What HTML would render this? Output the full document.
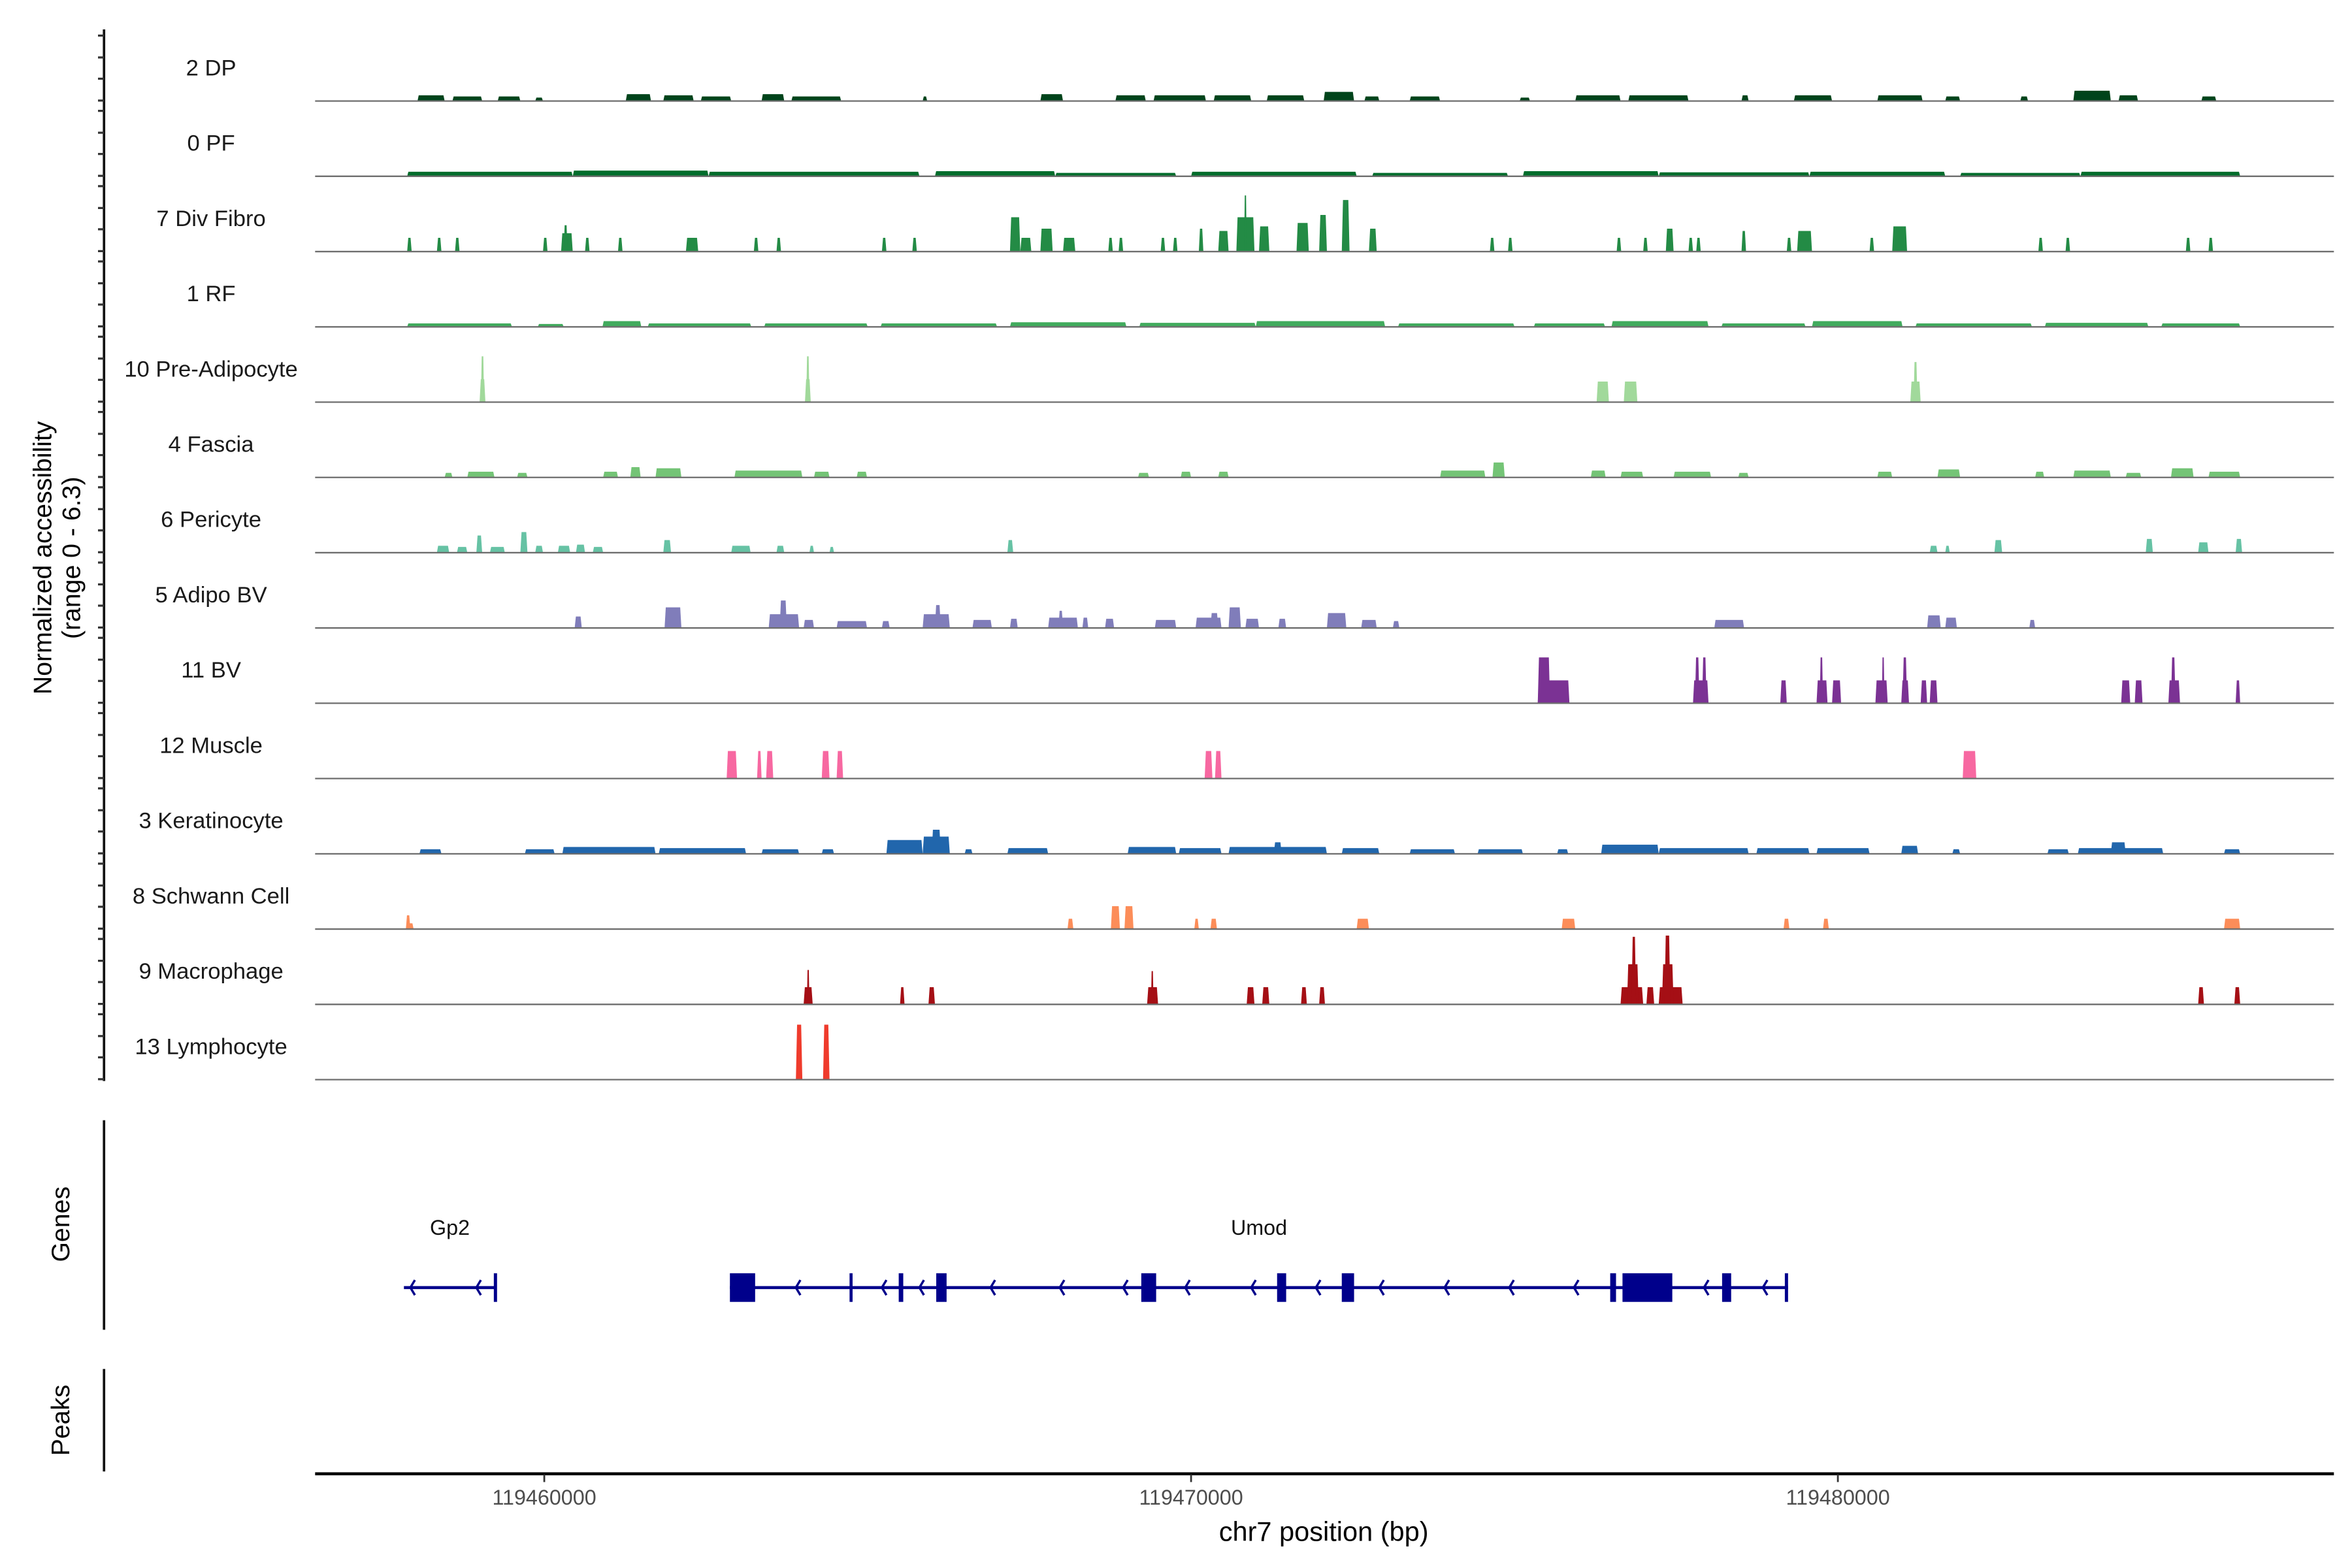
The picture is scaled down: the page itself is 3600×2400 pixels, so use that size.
<!DOCTYPE html>
<html><head><meta charset="utf-8">
<style>
html,body{margin:0;padding:0;background:#fff;}
svg{display:block;}
text{font-family:"Liberation Sans",Arial,sans-serif;}
</style></head>
<body>
<svg id="chart" width="3600" height="2400" viewBox="0 0 1560 1040" xmlns="http://www.w3.org/2000/svg">
<rect x="0" y="0" width="1560" height="1040" fill="#fff"/>
<g id="tracks"></g>
<g id="genes"></g>
<g id="axes"></g>
</svg>
<script>
// positions in kb offset from 119450000 bp; values in normalized accessibility
const trackNames = ["2 DP","0 PF","7 Div Fibro","1 RF","10 Pre-Adipocyte","4 Fascia","6 Pericyte","5 Adipo BV","11 BV","12 Muscle","3 Keratinocyte","8 Schwann Cell","9 Macrophage","13 Lymphocyte"];
const trackColors = ["#00441b","#006d2c","#238b45","#41ab5d","#a1d99b","#74c476","#66c2a4","#807dba","#7b3294","#f768a1","#2166ac","#fc8d59","#a50f15","#ef3b2c"];
const xTicks = [119460000,119470000,119480000];
const xTickLabels = ["119460000","119470000","119480000"];

const dpPeaks = [[8.04,8.46,0.5],[8.58,9.04,0.4],[9.28,9.63,0.4],[9.86,9.98,0.3],[11.26,11.65,0.6],[11.84,12.31,0.5],[12.42,12.89,0.4],[13.36,13.71,0.6],[13.82,14.59,0.4],[15.85,15.92,0.4],[17.67,18.02,0.6],[18.83,19.30,0.5],[19.42,20.23,0.5],[20.35,20.93,0.5],[21.17,21.75,0.5],[22.05,22.52,0.8],[22.68,22.91,0.4],[23.38,23.85,0.4],[25.08,25.24,0.3],[25.94,26.64,0.5],[26.76,27.69,0.5],[28.51,28.62,0.5],[29.32,29.91,0.5],[30.61,31.31,0.5],[31.66,31.89,0.4],[32.82,32.94,0.4],[33.64,34.22,0.9],[34.34,34.64,0.5],[35.62,35.85,0.4]];
const pfPeaks = [[7.88,10.44,0.4],[10.44,12.54,0.5],[12.54,15.80,0.4],[16.04,17.90,0.45],[17.90,19.77,0.3],[20.00,22.56,0.4],[22.80,24.90,0.3],[25.13,27.23,0.45],[27.23,29.56,0.35],[29.56,31.66,0.4],[31.89,33.75,0.3],[33.75,36.22,0.4]];
const divFibroPeaks = [[7.88,7.95,1.2],[8.34,8.41,1.2],[8.62,8.69,1.2],[9.98,10.05,1.2],[10.26,10.44,1.6],[10.30,10.36,2.3],[10.63,10.70,1.2],[11.14,11.21,1.2],[12.19,12.38,1.2],[13.24,13.31,1.2],[13.59,13.66,1.2],[15.22,15.29,1.2],[15.69,15.76,1.2],[17.20,17.36,3.0],[17.36,17.53,1.2],[17.67,17.86,2.0],[18.02,18.21,1.2],[18.72,18.79,1.2],[18.88,18.95,1.2],[19.53,19.60,1.2],[19.72,19.79,1.2],[20.12,20.19,2.0],[20.42,20.58,1.8],[20.70,20.98,3.0],[20.82,20.86,4.9],[21.05,21.21,2.2],[21.63,21.82,2.5],[21.98,22.10,3.2],[22.33,22.45,4.5],[22.75,22.87,2.0],[24.62,24.69,1.2],[24.90,24.97,1.2],[26.58,26.65,1.2],[26.99,27.06,1.2],[27.34,27.46,2.0],[27.69,27.76,1.2],[27.81,27.88,1.2],[28.51,28.58,1.8],[29.21,29.28,1.2],[29.37,29.60,1.8],[30.49,30.56,1.2],[30.84,31.07,2.2],[33.10,33.17,1.2],[33.52,33.59,1.2],[35.38,35.45,1.2],[35.73,35.80,1.2]];
const rfPeaks = [[7.88,9.50,0.3],[9.90,10.30,0.25],[10.90,11.50,0.5],[11.60,13.20,0.3],[13.40,15.00,0.3],[15.20,17.00,0.3],[17.20,19.00,0.4],[19.20,21.00,0.35],[21.00,23.00,0.5],[23.20,25.00,0.3],[25.30,26.40,0.3],[26.50,28.00,0.5],[28.20,29.50,0.3],[29.60,31.00,0.5],[31.20,33.00,0.3],[33.20,34.80,0.35],[35.00,36.22,0.3]];
const preAdipoPeaks = [[9.00,9.09,2.0],[9.02,9.07,4.0],[14.03,14.12,2.0],[14.05,14.10,4.0],[26.27,26.46,1.8],[26.69,26.90,1.8],[31.12,31.28,1.8],[31.17,31.23,3.5]];
const fasciaPeaks = [[8.46,8.58,0.4],[8.81,9.23,0.5],[9.58,9.74,0.4],[10.91,11.14,0.5],[11.33,11.49,0.9],[11.72,12.12,0.8],[12.94,13.99,0.6],[14.17,14.41,0.5],[14.83,14.99,0.5],[19.18,19.35,0.4],[19.84,20.00,0.5],[20.42,20.58,0.5],[23.85,24.55,0.6],[24.66,24.85,1.3],[26.18,26.41,0.6],[26.64,26.99,0.5],[27.46,28.04,0.5],[28.46,28.62,0.4],[30.61,30.84,0.5],[31.54,31.89,0.7],[33.05,33.19,0.5],[33.64,34.22,0.6],[34.45,34.69,0.4],[35.15,35.50,0.8],[35.73,36.22,0.5]];
const pericytePeaks = [[8.34,8.53,0.6],[8.65,8.81,0.5],[8.95,9.04,1.5],[9.16,9.39,0.5],[9.63,9.74,1.8],[9.86,9.98,0.6],[10.21,10.40,0.6],[10.49,10.63,0.7],[10.75,10.91,0.5],[11.84,11.96,1.1],[12.89,13.19,0.6],[13.59,13.71,0.6],[14.10,14.17,0.6],[14.41,14.48,0.5],[17.16,17.25,1.1],[31.42,31.54,0.6],[31.66,31.73,0.6],[32.42,32.54,1.1],[34.76,34.87,1.2],[35.57,35.73,0.9],[36.15,36.25,1.2]];
const adipoBvPeaks = [[10.47,10.58,1.0],[11.86,12.12,1.8],[13.47,13.94,1.2],[13.64,13.75,2.4],[14.01,14.17,0.7],[14.52,14.99,0.6],[15.22,15.34,0.6],[15.85,16.27,1.2],[16.04,16.13,2.0],[16.62,16.92,0.7],[17.20,17.32,0.8],[17.79,18.25,0.9],[17.95,18.02,1.5],[18.32,18.41,0.9],[18.67,18.81,0.8],[19.44,19.77,0.7],[20.07,20.47,0.9],[20.30,20.42,1.3],[20.58,20.77,1.8],[20.84,21.05,0.8],[21.35,21.47,0.8],[22.10,22.40,1.3],[22.63,22.87,0.7],[23.12,23.22,0.6],[28.09,28.55,0.7],[31.38,31.59,1.1],[31.66,31.84,0.9],[32.96,33.05,0.7]];
const bvPeaks = [[25.36,25.85,2.0],[25.36,25.55,4.0],[27.76,28.00,2.0],[27.79,27.86,4.0],[27.90,27.97,4.0],[29.11,29.21,2.0],[29.67,29.84,2.0],[29.72,29.77,4.0],[29.91,30.05,2.0],[30.58,30.77,2.0],[30.68,30.72,4.0],[30.98,31.10,2.0],[31.00,31.07,4.0],[31.28,31.38,2.0],[31.42,31.54,2.0],[34.38,34.52,2.0],[34.59,34.71,2.0],[35.11,35.29,2.0],[35.15,35.22,4.0],[36.15,36.22,2.0]];
const musclePeaks = [[12.82,12.98,2.4],[13.29,13.36,2.4],[13.43,13.54,2.4],[14.29,14.41,2.4],[14.52,14.62,2.4],[20.21,20.33,2.4],[20.37,20.47,2.4],[31.93,32.14,2.4]];
const keratinocytePeaks = [[8.07,8.41,0.4],[9.70,10.16,0.4],[10.28,11.72,0.6],[11.77,13.12,0.5],[13.36,13.94,0.4],[14.29,14.48,0.4],[15.29,15.85,1.2],[15.85,16.27,1.5],[15.99,16.13,2.1],[16.50,16.62,0.4],[17.16,17.79,0.5],[19.02,19.77,0.6],[19.81,20.47,0.5],[20.58,22.10,0.6],[21.28,21.40,1.0],[22.33,22.91,0.5],[23.38,24.08,0.4],[24.43,25.13,0.4],[25.66,25.83,0.4],[26.34,27.23,0.8],[27.23,28.62,0.5],[28.74,29.56,0.5],[29.67,30.49,0.5],[30.98,31.24,0.7],[31.77,31.89,0.4],[33.24,33.57,0.4],[33.71,35.03,0.5],[34.22,34.45,1.0],[35.97,36.22,0.4]];
const schwannPeaks = [[7.86,7.98,0.5],[7.86,7.93,1.2],[18.09,18.18,0.9],[18.76,18.90,2.0],[18.97,19.11,2.0],[20.05,20.12,0.9],[20.30,20.40,0.9],[22.56,22.75,0.9],[25.73,25.94,0.9],[29.16,29.25,0.9],[29.77,29.86,0.9],[35.97,36.22,0.9]];
const macrophagePeaks = [[14.01,14.15,1.5],[14.06,14.10,3.0],[15.50,15.57,1.5],[15.94,16.04,1.5],[19.32,19.49,1.5],[19.38,19.42,2.9],[20.86,20.98,1.5],[21.10,21.21,1.5],[21.70,21.79,1.5],[21.98,22.07,1.5],[26.64,26.99,1.5],[26.74,26.92,3.5],[26.81,26.88,5.9],[27.04,27.16,1.5],[27.23,27.60,1.5],[27.28,27.46,3.5],[27.32,27.41,6.0],[35.57,35.66,1.5],[36.13,36.22,1.5]];
const lymphocytePeaks = [[13.89,13.99,4.8],[14.31,14.41,4.8]];
const allPeaks = [dpPeaks,pfPeaks,divFibroPeaks,rfPeaks,preAdipoPeaks,fasciaPeaks,pericytePeaks,adipoBvPeaks,bvPeaks,musclePeaks,keratinocytePeaks,schwannPeaks,macrophagePeaks,lymphocytePeaks];

const geneNames = ["Gp2","Umod"];
const geneSpans = [[7.83,9.25],[12.87,29.23]];
const gp2Exons = [[9.22,9.27]];
const umodExons = [[12.87,13.26],[14.72,14.75],[15.48,15.55],[16.06,16.22],[19.23,19.46],[21.33,21.47],[22.33,22.52],[26.48,26.57],[26.67,27.44],[28.21,28.35],[29.18,29.23]];
const gp2Arrows = [7.93,8.95];
const umodArrows = [13.89,15.22,15.80,16.90,17.97,18.95,19.91,20.93,21.93,22.91,23.92,24.92,25.92,27.93,28.84];

const NS="http://www.w3.org/2000/svg";
function el(tag, attrs, parent){const e=document.createElementNS(NS,tag);for(const k in attrs)e.setAttribute(k,attrs[k]);parent.appendChild(e);return e;}
const X0=361, PXKB=42.9;
function xKb(kb){return X0+(kb-10)*PXKB;}
function xBp(bp){return X0+(bp-119460000)/1000*PXKB;}
const YSCALE=7.6;
function baseY(i){return 67+i*49.93;}
function yVal(i,v){return baseY(i)-v*YSCALE;}

const gT=document.getElementById('tracks');
trackNames.forEach((name,i)=>{
  const g=el('g',{},gT);
  
  
  const lab=el('text',{x:140,y:baseY(i)-17,'text-anchor':'middle','font-size':15,fill:'#1a1a1a'},g);
  lab.textContent=name;
  
  
  allPeaks[i].forEach(p=>{
    const x1=xKb(p[0]), x2=xKb(p[1]), b=baseY(i), t=yVal(i,p[2]);
    const s=Math.min(0.8,(x2-x1)/4);
    const poly=el('polygon',{points:`${x1},${b} ${x1+s},${t} ${x2-s},${t} ${x2},${b}`,fill:trackColors[i]},g);
    
    
  });
  const bl=el('line',{x1:209,x2:1548,y1:baseY(i),y2:baseY(i),stroke:'#6e6e6e','stroke-width':1},g);
  
  
});

// genes
const gG=document.getElementById('genes');
const GY=854, C='#00008b';
function drawGene(idx, exons, arrows){
  const g=el('g',{},gG);
  
  
  const sp=geneSpans[idx];
  el('line',{x1:xKb(sp[0]),x2:xKb(sp[1]),y1:GY,y2:GY,stroke:C,'stroke-width':2},g);
  exons.forEach(e=>{
    const w=Math.max(2,xKb(e[1])-xKb(e[0]));
    const r=el('rect',{x:xKb(e[0]),y:GY-9.5,width:w,height:19,fill:C},g);
    
    
  });
  arrows.forEach(a=>{
    const x=xKb(a);
    el('polyline',{points:`${x+3},${GY-5} ${x},${GY} ${x+3},${GY+5}`,fill:'none',stroke:C,'stroke-width':1.5},g);
  });
  const t=el('text',{x:xKb((sp[0]+sp[1])/2),y:819,'text-anchor':'middle','font-size':14,fill:'#111'},g);
  t.textContent=geneNames[idx];
  
  
}
drawGene(0,gp2Exons,gp2Arrows);
drawGene(1,umodExons,umodArrows);

// axes
const gA=document.getElementById('axes');
el('line',{x1:69,x2:69,y1:19.5,y2:717,stroke:'#111','stroke-width':1.6},gA);
for(let k=0;k<14;k++){
  [23.6,38.1,52.2,66.7].forEach(o=>{
    const y=o+k*49.93; if(y<=717) el('line',{x1:65,x2:69,y1:y,y2:y,stroke:'#333','stroke-width':1.4},gA);
  });
}
el('line',{x1:69,x2:69,y1:743,y2:882,stroke:'#111','stroke-width':1.6},gA);
el('line',{x1:69,x2:69,y1:908,y2:976,stroke:'#111','stroke-width':1.6},gA);
const xl=el('line',{x1:209,x2:1548,y1:977.5,y2:977.5,stroke:'#000','stroke-width':2},gA);


xTicks.forEach((v,i)=>{
  const x=xBp(v);
  el('line',{x1:x,x2:x,y1:978,y2:983,stroke:'#333','stroke-width':1.2},gA);
  const t=el('text',{x:x,y:998,'text-anchor':'middle','font-size':14,fill:'#4d4d4d'},gA);
  t.textContent=xTickLabels[i];
  
  
});
const xt=el('text',{x:878,y:1022,'text-anchor':'middle','font-size':18,fill:'#000'},gA);
xt.textContent='chr7 position (bp)';


const yt=el('text',{transform:'translate(34,370) rotate(-90)','text-anchor':'middle','font-size':17,fill:'#000'},gA);
yt.textContent='Normalized accessibility';


const yt2=el('text',{transform:'translate(53,370) rotate(-90)','text-anchor':'middle','font-size':17,fill:'#000'},gA);
yt2.textContent='(range 0 - 6.3)';


const gl=el('text',{transform:'translate(46,812) rotate(-90)','text-anchor':'middle','font-size':17,fill:'#000'},gA);
gl.textContent='Genes';


const pl=el('text',{transform:'translate(46,942) rotate(-90)','text-anchor':'middle','font-size':17,fill:'#000'},gA);
pl.textContent='Peaks';


</script>
</body></html>
